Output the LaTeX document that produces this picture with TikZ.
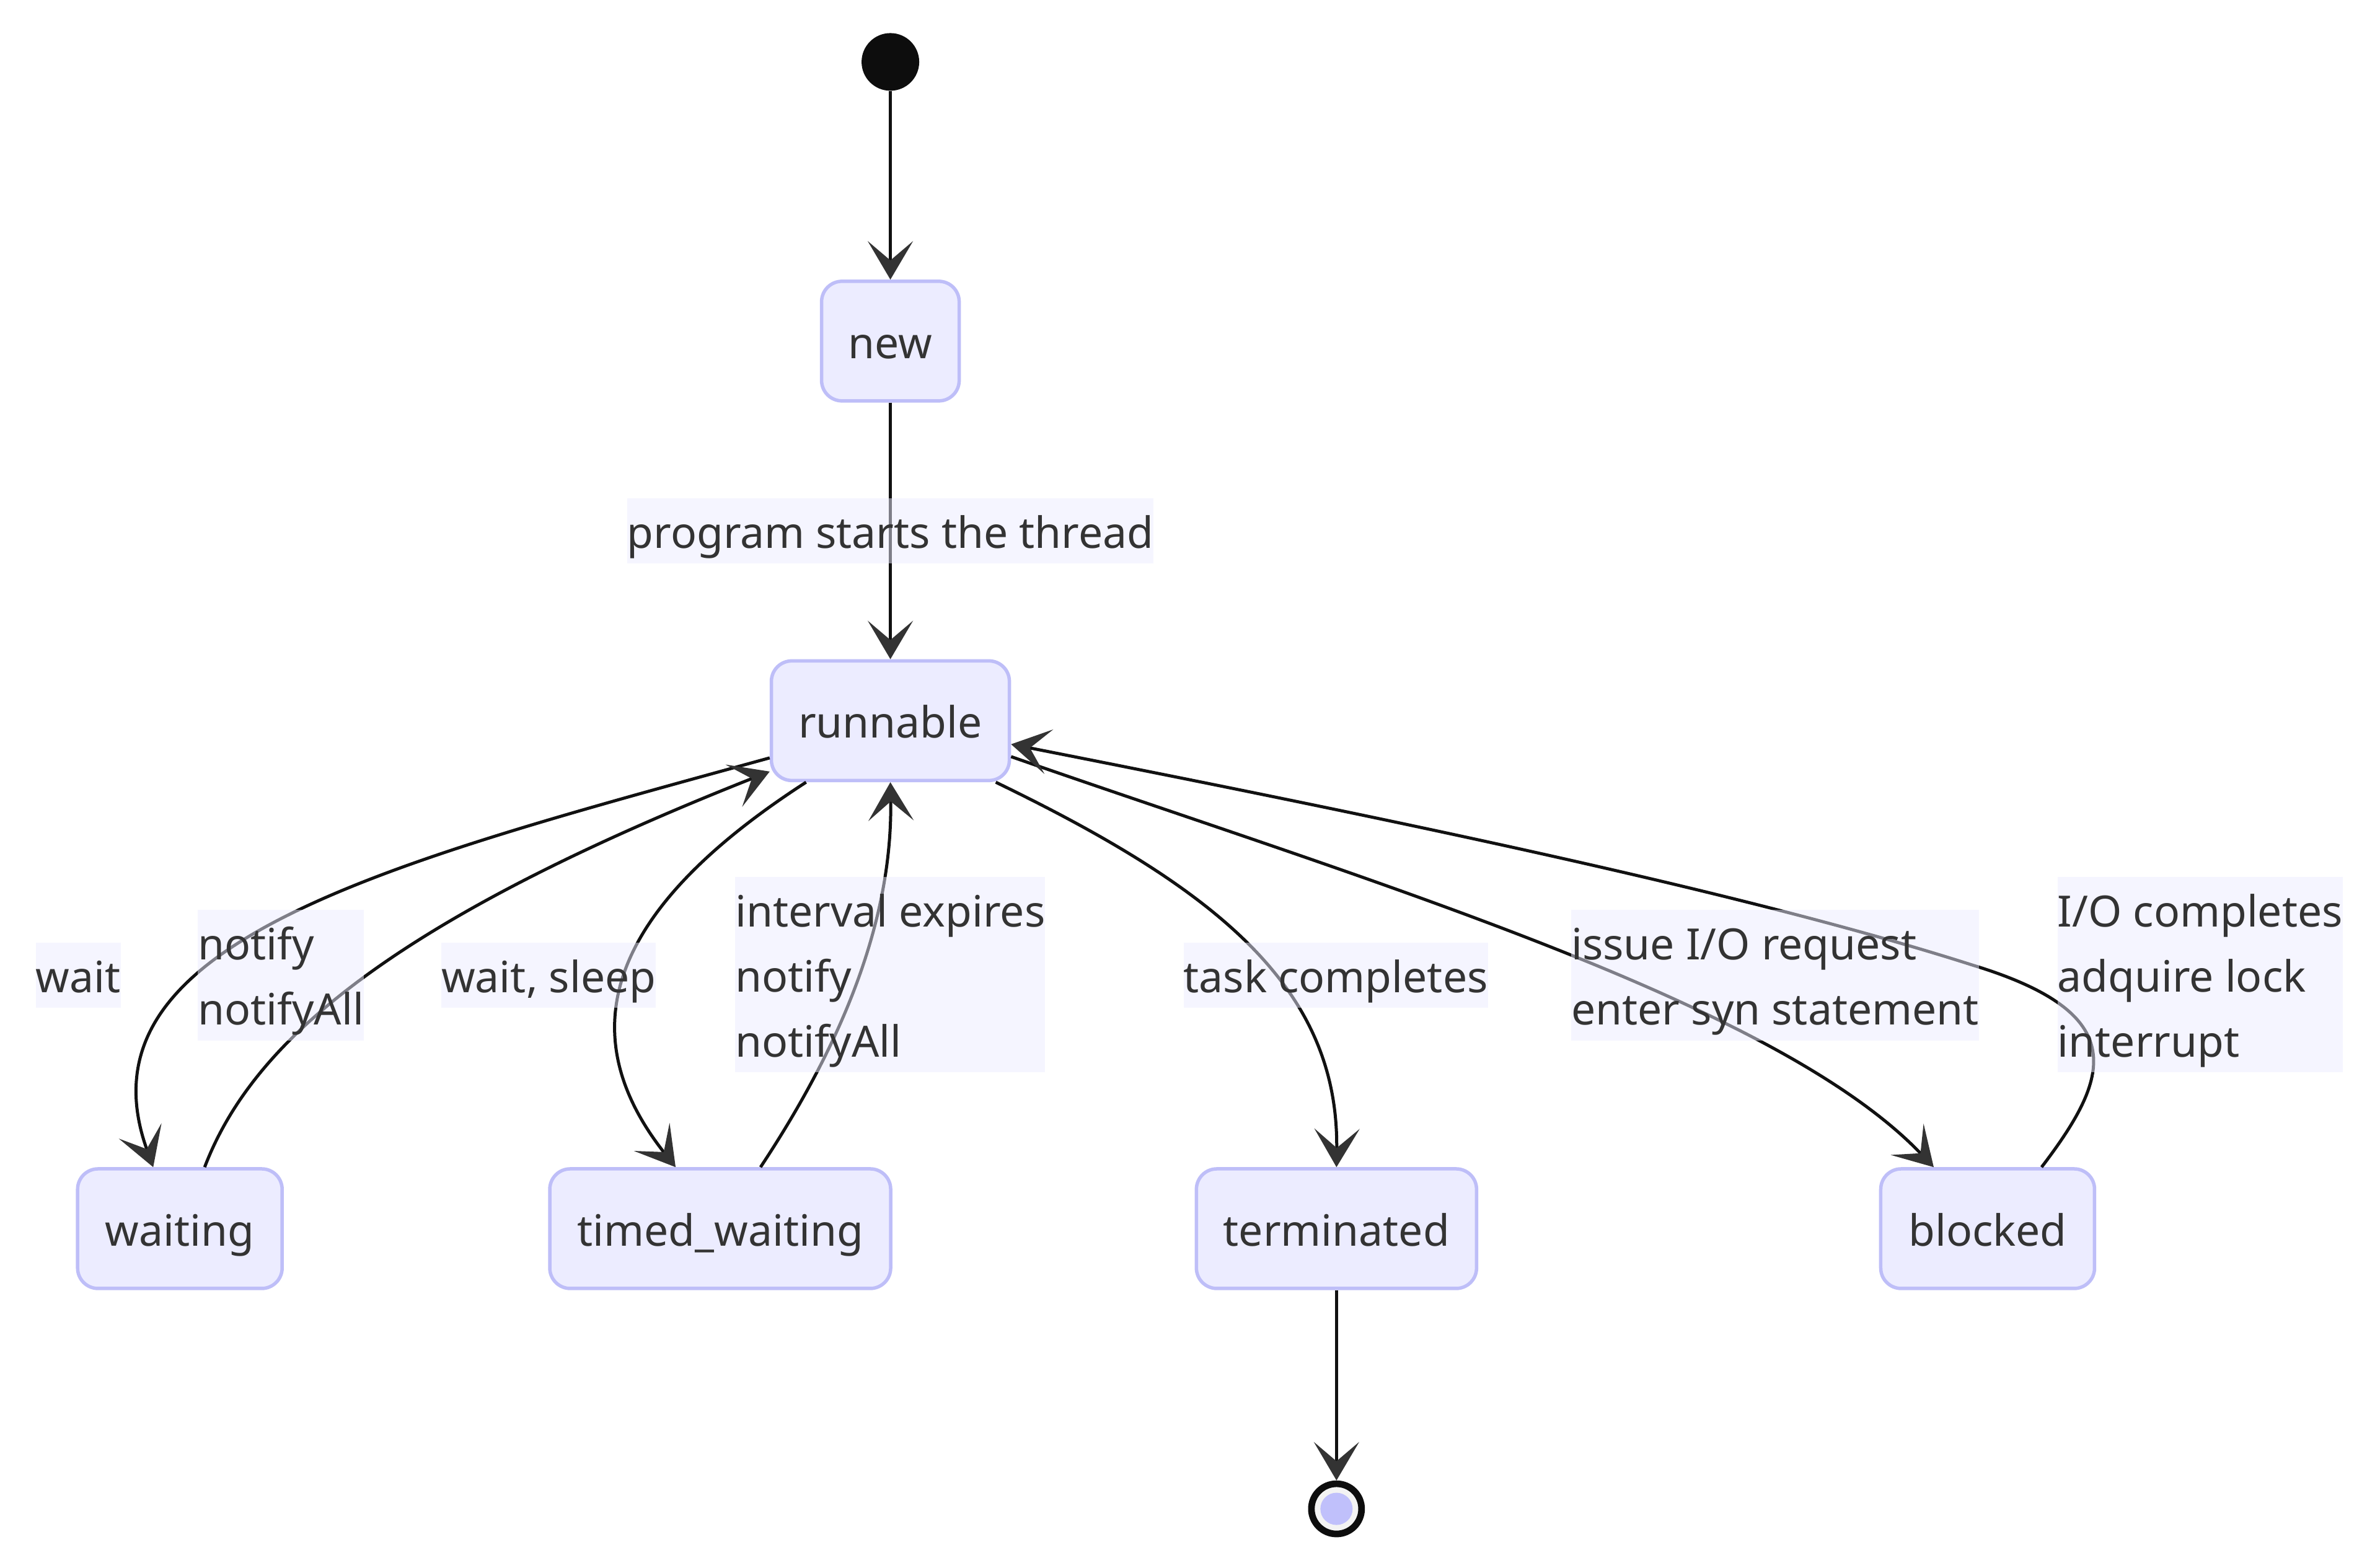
\documentclass[tikz,border=0pt]{standalone}
\usepackage{fontspec}
\setmainfont{Noto Sans}
\usetikzlibrary{arrows.meta,positioning}
\definecolor{StateFill}{HTML}{ECECFF}
\definecolor{StateLine}{HTML}{BEBEF8}
\definecolor{Ink}{HTML}{333333}
\definecolor{Edge}{HTML}{111111}
\definecolor{EndFill}{HTML}{F3F3F3}
\definecolor{EndDot}{HTML}{C0C0FB}
\newcommand{\labfont}{\fontsize{19.8}{29.9}\selectfont}

\begin{document}
\begin{tikzpicture}[x=0.2449mm,y=-0.2449mm,
    state/.style={rounded corners=3.3mm,draw=StateLine,fill=StateFill,line width=0.55mm,
      minimum height=19.3mm,inner sep=0pt,text height=15.9pt,text depth=0pt,text=Ink,font=\labfont},
    lab/.style={fill=StateFill,fill opacity=0.5,text opacity=1,inner sep=0pt,
      align=left,text=Ink,font=\labfont,text height=22.9pt,text depth=7pt},
    lab2/.style={lab,text height=52.8pt},
    lab3/.style={lab,text height=82.7pt},
    arr/.style={-{Stealth[length=6.2mm,width=7.3mm,inset=3.1mm,color=Ink]},line width=0.5mm,Edge}
  ]
    \path[fill=white] (0,0) rectangle (1568,1033);
    % states
    \node[circle,fill=black!95,minimum size=9.3mm,inner sep=0pt] (start) at (586.6,40.8) {};
    \node[state,minimum width=22.2mm,below=30.4mm of start] (new) {new};
    \node[state,minimum width=38.4mm,below=41.4mm of new] (runnable) {runnable};
    \node[state,minimum width=33.0mm] (waiting) at (118.5,809.5) {waiting};
    \node[state,minimum width=55.0mm] (timed) at (474.5,809.5) {timed\_waiting};
    \node[state,minimum width=45.2mm] (terminated) at (880.5,809.5) {terminated};
    \node[state,minimum width=34.5mm] (blocked) at (1309.5,809.5) {blocked};
    \node[circle,draw=black!95,line width=1.07mm,fill=EndFill,minimum size=8.1mm,inner sep=0pt,
      below=30.7mm of terminated,
      path picture={\fill[EndDot] (path picture bounding box.center) circle (2.6mm);}] (end) {};

    % transitions
    \draw[arr] (start) -- (new);
    \draw[arr] (new) -- node[lab] (lstart) {program starts the thread} (runnable);
    \draw[arr] ([yshift=-6mm]runnable.west) .. controls (250,570) and (48,622) .. ([xshift=-4.3mm]waiting.north);
    \draw[arr] ([xshift=4mm]waiting.north) .. controls (165,690) and (250,610) .. ([yshift=-8.2mm]runnable.west);
    \draw[arr] ([xshift=-13.6mm]runnable.south) .. controls (400,600) and (375,680) .. ([xshift=-7.2mm]timed.north);
    \draw[arr] ([xshift=6.5mm]timed.north) .. controls (560,680) and (588,600) .. (runnable.south);
    \draw[arr] ([xshift=17mm]runnable.south) .. controls (800,585) and (882,650) .. (terminated.north);
    \draw[arr] ([yshift=-5.8mm]runnable.east) .. controls (900,580) and (1170,660) .. ([xshift=-8.7mm]blocked.north);
    \draw[arr] ([xshift=8.7mm]blocked.north) .. controls (1390,710) and (1405,668) .. (1300,636)
      .. controls (1150,588) and (918,540) .. ([yshift=-3.8mm]runnable.east);
    \draw[arr] (terminated) -- (end);

    % labels
    \node[lab] (lwait) at (51.5,642.5) {wait};
    \node[lab2] (lnotify) at (185,642.5) {notify\\notifyAll};
    \node[lab] (lsleep) at (361.5,642.5) {wait, sleep};
    \node[lab3] (linterval) at (586.5,642) {interval expires\\notify\\notifyAll};
    \node[lab] (ltask) at (880,642.5) {task completes};
    \node[lab2] (lissue) at (1169.5,642.5) {issue I/O request\\enter syn statement};
    \node[lab3] (lio) at (1449.5,642) {I/O completes\\adquire lock\\interrupt};
  \end{tikzpicture}
\end{document}
